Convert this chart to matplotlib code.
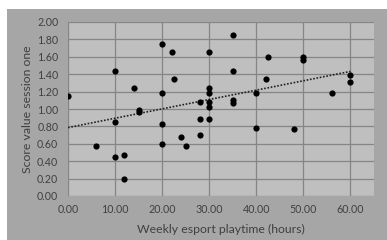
import numpy as np
import matplotlib
matplotlib.use("Agg")
import matplotlib.pyplot as plt
from matplotlib.patches import Rectangle

# Weekly esport playtime (hours) vs score value session one
playtime = [0, 6, 10, 10, 10, 12, 12, 14, 15, 15,
            20, 20, 20, 20, 22, 22.5, 24, 25, 28, 28,
            28, 30, 30, 30, 30, 30, 30, 35, 35, 35,
            35, 40, 40, 42, 42.5, 48, 50, 50, 56, 60, 60]
score = [1.15, 0.58, 1.44, 0.85, 0.45, 0.47, 0.19, 1.24, 0.99, 0.96,
         1.75, 1.18, 0.83, 0.60, 1.65, 1.35, 0.68, 0.58, 1.08, 0.88,
         0.70, 1.65, 1.24, 1.18, 1.08, 1.02, 0.88, 1.85, 1.44, 1.10,
         1.07, 1.18, 0.78, 1.35, 1.60, 0.77, 1.60, 1.56, 1.18, 1.39, 1.31]

x_ticks = [0, 10, 20, 30, 40, 50, 60]
y_ticks = [0.0, 0.2, 0.4, 0.6, 0.8, 1.0, 1.2, 1.4, 1.6, 1.8, 2.0]

TEXT = '#404040'
plt.rcParams['font.family'] = ['Lato', 'DejaVu Sans']

fig = plt.figure(figsize=(3.87, 2.40), dpi=100)
fig.patch.set_facecolor('white')
# grey chart frame
frame = Rectangle((7 / 387, 0), 1, 1 - 9 / 240, transform=fig.transFigure,
                  facecolor='#a6a6a6', edgecolor='none', zorder=-1)
fig.add_artist(frame)

ax = fig.add_axes([68 / 387, 44 / 240, 306 / 387, 174 / 240])
ax.set_zorder(1)
ax.set_facecolor('#bfbfbf')
ax.set_xlim(0, 65)
ax.set_ylim(0, 2.0)
ax.set_xticks(x_ticks)
ax.set_yticks(y_ticks)
ax.set_xticklabels([f"{v:.2f}" for v in x_ticks])
ax.set_yticklabels([f"{v:.2f}" for v in y_ticks])
ax.grid(True, color='#858585', linewidth=0.9)
ax.set_axisbelow(True)
for s in ax.spines.values():
    s.set_visible(False)
ax.tick_params(length=0, labelsize=7.7, colors=TEXT)
ax.tick_params(axis='x', pad=6)
ax.tick_params(axis='y', pad=7)

ax.scatter(playtime, score, s=20, color='black', zorder=3, linewidths=0)

# linear trendline over data range
k, b = np.polyfit(playtime, score, 1)
xs = np.array([min(playtime), max(playtime)])
ax.plot(xs, k * xs + b, color='#222222', linestyle=(0, (1, 1)), linewidth=1.2, zorder=2)

ax.set_xlabel("Weekly esport playtime (hours)", fontsize=8.8, color=TEXT, labelpad=6)
ax.set_ylabel("Score value session one", fontsize=8.8, color=TEXT, labelpad=3)

fig.savefig("out.png", dpi=100)
